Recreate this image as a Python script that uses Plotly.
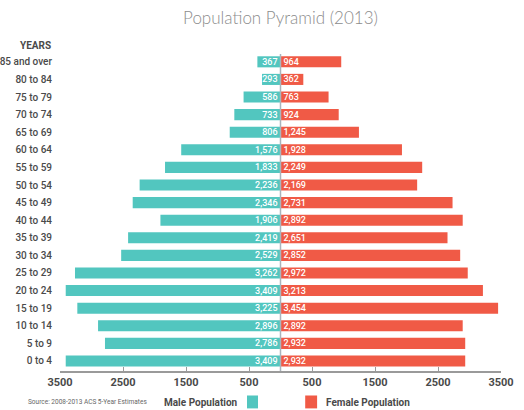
import plotly.graph_objects as go

age_groups = ["85 and over", "80 to 84", "75 to 79", "70 to 74", "65 to 69", "60 to 64",
              "55 to 59", "50 to 54", "45 to 49", "40 to 44", "35 to 39", "30 to 34",
              "25 to 29", "20 to 24", "15 to 19", "10 to 14", "5 to 9", "0 to 4"]
male = [367, 293, 586, 733, 806, 1576, 1833, 2236, 2346, 1906, 2419, 2529,
        3262, 3409, 3225, 2896, 2786, 3409]
female = [964, 362, 763, 924, 1245, 1928, 2249, 2169, 2731, 2892, 2651, 2852,
          2972, 3213, 3454, 2892, 2932, 2932]
tick_values = [-3500, -2500, -1500, -500, 500, 1500, 2500, 3500]
tick_labels = ["3500", "2500", "1500", "500", "500", "1500", "2500", "3500"]

TEAL = "#52c6bf"
RED = "#f05a46"
LABEL = "#4a4a4a"
FONT = "Roboto"

cats = age_groups[::-1]
m = male[::-1]
f = female[::-1]
pos = list(range(len(cats)))

fig = go.Figure()
fig.add_bar(y=pos, x=[-v for v in m], orientation="h", marker=dict(color=TEAL, line=dict(width=0)),
            width=0.63, text=[f"{v:,}" for v in m], textposition="inside",
            insidetextanchor="start", textfont=dict(color="white", size=9, family=FONT, weight=500),
            name="Male Population", showlegend=False)
fig.add_bar(y=pos, x=f, orientation="h", marker=dict(color=RED, line=dict(width=0)),
            width=0.63, text=[f"{v:,}" for v in f], textposition="inside",
            insidetextanchor="start", textfont=dict(color="white", size=9, family=FONT, weight=500),
            name="Female Population", showlegend=False)

fig.add_shape(type="line", xref="x", yref="y", x0=0, x1=0, y0=-0.57, y1=17.45,
              line=dict(color="#aab4bc", width=1.5), layer="above")

annotations = [
    dict(text="YEARS", xref="paper", yref="y", x=0, y=17.95, xanchor="right", yanchor="middle",
         xshift=-7, showarrow=False, font=dict(size=10, color=LABEL, family=FONT, weight="bold")),
    dict(text="Source: 2008-2013 ACS 5-Year Estimates", xref="paper", yref="paper",
         x=-0.077, y=-0.094, xanchor="left", yanchor="middle", showarrow=False,
         font=dict(size=6.5, color="#666666", family=FONT)),
    dict(text="Male Population", xref="paper", yref="paper", x=0.408, y=-0.094,
         xanchor="right", yanchor="middle", showarrow=False,
         font=dict(size=10, color=LABEL, family=FONT, weight="bold")),
    dict(text="Female Population", xref="paper", yref="paper", x=0.599, y=-0.094,
         xanchor="left", yanchor="middle", showarrow=False,
         font=dict(size=10, color=LABEL, family=FONT, weight="bold")),
]
shapes_legend = [
    dict(type="rect", xref="paper", yref="paper", x0=0.424, x1=0.449, y0=-0.113, y1=-0.074,
         fillcolor=TEAL, line=dict(width=0)),
    dict(type="rect", xref="paper", yref="paper", x0=0.556, x1=0.583, y0=-0.113, y1=-0.074,
         fillcolor=RED, line=dict(width=0)),
]
for s in shapes_legend:
    fig.add_shape(**s)

fig.update_layout(
    width=524, height=410,
    margin=dict(l=60, r=23, t=40, b=39),
    barmode="overlay",
    paper_bgcolor="white", plot_bgcolor="white",
    title=dict(text="Population Pyramid (2013)", x=0.5, xref="paper", y=0.955, yref="container",
               yanchor="middle", xanchor="center",
               font=dict(size=17, color="#8c8c8c", family="Lato", weight=300)),
    annotations=annotations,
    uniformtext=dict(minsize=9, mode="show"),
    xaxis=dict(range=[-3500, 3500], tickvals=tick_values, ticktext=tick_labels,
               showgrid=False, zeroline=False, showline=True, linecolor="#9a9a9a", linewidth=1.5,
               ticks="inside", ticklen=4, tickcolor="#9a9a9a", tickwidth=1, automargin=False,
               tickfont=dict(size=11, color=LABEL, family=FONT, weight="bold"), fixedrange=True),
    yaxis=dict(range=[-0.57, 18.24], tickvals=pos, ticktext=cats, showgrid=False,
               zeroline=False, showline=False, ticks="", ticklabelstandoff=7, automargin=False,
               tickfont=dict(size=10, color=LABEL, family=FONT, weight=500), fixedrange=True),
)

fig.write_html("out.html")
